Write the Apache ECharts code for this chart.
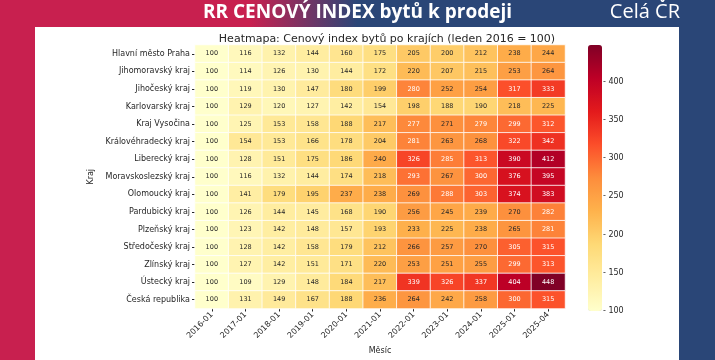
<!DOCTYPE html>
<html>
<head>
<meta charset="utf-8">
<script src="https://cdn.jsdelivr.net/npm/echarts@6/dist/echarts.min.js"></script>
<style>
html,body{margin:0;padding:0;width:715px;height:360px;overflow:hidden;}
#bg{position:absolute;left:0;top:0;width:715px;height:360px;
background:linear-gradient(90deg,#c8204f 0%,#c8204f 35%,#2a4677 50%,#2a4677 100%);}
#chart{position:absolute;left:0;top:0;width:715px;height:360px;}
</style>
</head>
<body>
<div id="bg"></div>
<div id="chart"></div>
<script>
// ---- data ----
const months = ['2016-01','2017-01','2018-01','2019-01','2020-01','2021-01','2022-01','2023-01','2024-01','2025-01','2025-04'];
const regions = ['Hlavní město Praha','Jihomoravský kraj','Jihočeský kraj','Karlovarský kraj','Kraj Vysočina','Královéhradecký kraj','Liberecký kraj','Moravskoslezský kraj','Olomoucký kraj','Pardubický kraj','Plzeňský kraj','Středočeský kraj','Zlínský kraj','Ústecký kraj','Česká republika'];
const praha        = [100,116,132,144,160,175,205,200,212,238,244];
const jihomoravsky = [100,114,126,130,144,172,220,207,215,253,264];
const jihocesky    = [100,119,130,147,180,199,280,252,254,317,333];
const karlovarsky  = [100,129,120,127,142,154,198,188,190,218,225];
const vysocina     = [100,125,153,158,188,217,277,271,279,299,312];
const kralovehrad  = [100,154,153,166,178,204,281,263,268,322,342];
const liberecky    = [100,128,151,175,186,240,326,285,313,390,412];
const moravskoslez = [100,116,132,144,174,218,293,267,300,376,395];
const olomoucky    = [100,141,179,195,237,238,269,288,303,374,383];
const pardubicky   = [100,126,144,145,168,190,256,245,239,270,282];
const plzensky     = [100,123,142,148,157,193,233,225,238,265,281];
const stredocesky  = [100,128,142,158,179,212,266,257,270,305,315];
const zlinsky      = [100,127,142,151,171,220,253,251,255,299,313];
const ustecky      = [100,109,129,148,184,217,339,326,337,404,448];
const cr           = [100,131,149,167,188,236,264,242,258,300,315];
const rows = [praha,jihomoravsky,jihocesky,karlovarsky,vysocina,kralovehrad,liberecky,moravskoslez,olomoucky,pardubicky,plzensky,stredocesky,zlinsky,ustecky,cr];
const colorbarTicks = [100,150,200,250,300,350,400];
const vMin = 100, vMax = 448;

// ---- colormap (YlOrRd) ----
const ylOrRd = ['#ffffcc','#ffeda0','#fed976','#feb24c','#fd8d3c','#fc4e2a','#e31a1c','#bd0026','#800026'];
function hex2rgb(h){return [parseInt(h.substr(1,2),16),parseInt(h.substr(3,2),16),parseInt(h.substr(5,2),16)];}
function cmap(v){
  let t=(v-vMin)/(vMax-vMin); t=Math.max(0,Math.min(1,t));
  const p=t*(ylOrRd.length-1); const i=Math.min(Math.floor(p),ylOrRd.length-2); const f=p-i;
  const a=hex2rgb(ylOrRd[i]), b=hex2rgb(ylOrRd[i+1]);
  return [0,1,2].map(k=>a[k]+(b[k]-a[k])*f);
}
function lum(rgb){
  const c=rgb.map(x=>{x/=255;return x<=0.03928?x/12.92:Math.pow((x+0.055)/1.055,2.4);});
  return 0.2126*c[0]+0.7152*c[1]+0.0722*c[2];
}
const data=[];
rows.forEach((r,yi)=>r.forEach((v,xi)=>{
  data.push({value:[xi,yi,v],label:{color: lum(cmap(v))>0.408?'#262626':'#ffffff'}});
}));

const font='DejaVu Sans';
const chart=echarts.init(document.getElementById('chart'),null,{renderer:'canvas'});
chart.setOption({
  animation:false,
  backgroundColor:'transparent',
  textStyle:{fontFamily:font},
  graphic:[
    {type:'rect',z:-10,shape:{x:35,y:27,width:644,height:333},style:{fill:'#ffffff'}},
    {type:'text',left:'center',top:3,style:{text:'RR CENOVÝ INDEX bytů k prodeji',fill:'#ffffff',font:'bold 19px "Open Sans"'},z:10},
    {type:'text',right:35,top:2,style:{text:'Celá ČR',fill:'#ffffff',font:'20px "Open Sans"'},z:10}
  ],
  title:{text:'Heatmapa: Cenový index bytů po krajích (leden 2016 = 100)',left:382,textAlign:'center',top:29,
    textStyle:{fontFamily:font,fontSize:11,fontWeight:'normal',color:'#262626'}},
  grid:[
    {left:195,top:45,width:370,height:266},
    {left:588,top:45,width:14,height:266}
  ],
  xAxis:[
    {type:'category',data:months,gridIndex:0,
     axisLine:{show:false},axisTick:{show:true,alignWithLabel:true,length:3,lineStyle:{color:'#262626'}},
     axisLabel:{rotate:45,fontSize:8,color:'#262626',margin:5,fontFamily:font},
     name:'Měsíc',nameLocation:'middle',nameGap:35,nameTextStyle:{fontSize:8,color:'#262626',fontFamily:font},
     splitLine:{show:false}},
    {type:'value',gridIndex:1,show:false,min:0,max:1}
  ],
  yAxis:[
    {type:'category',data:regions,inverse:true,gridIndex:0,
     axisLine:{show:false},axisTick:{show:true,alignWithLabel:true,length:3,lineStyle:{color:'#262626'}},
     axisLabel:{fontSize:8,color:'#262626',margin:5,fontFamily:font},
     name:'Kraj',nameLocation:'middle',nameGap:68,nameRotate:90,nameTextStyle:{fontSize:8,color:'#262626',fontFamily:font},
     splitLine:{show:false}},
    {type:'value',gridIndex:1,min:vMin,max:vMax,position:'right',z:20,
     axisLine:{show:false},splitLine:{show:false},axisTick:{show:false},
     axisLabel:{fontSize:8,color:'#262626',margin:1,fontFamily:font,customValues:colorbarTicks,
       formatter:v=>'- '+v}}
  ],
  visualMap:{type:'continuous',min:vMin,max:vMax,calculable:false,orient:'vertical',z:1,
    left:588,top:45,itemWidth:14,itemHeight:266,padding:0,text:null,showLabel:false,seriesIndex:0,
    inRange:{color:ylOrRd}},
  series:[
    {type:'heatmap',xAxisIndex:0,yAxisIndex:0,data:data,
     itemStyle:{borderColor:'#ffffff',borderWidth:0.8},
     label:{show:true,fontSize:6.5,fontFamily:font,formatter:p=>p.value[2]},
     emphasis:{disabled:true}},
    {type:'scatter',xAxisIndex:1,yAxisIndex:1,data:[],silent:true}
  ]
});
</script>
</body>
</html>
